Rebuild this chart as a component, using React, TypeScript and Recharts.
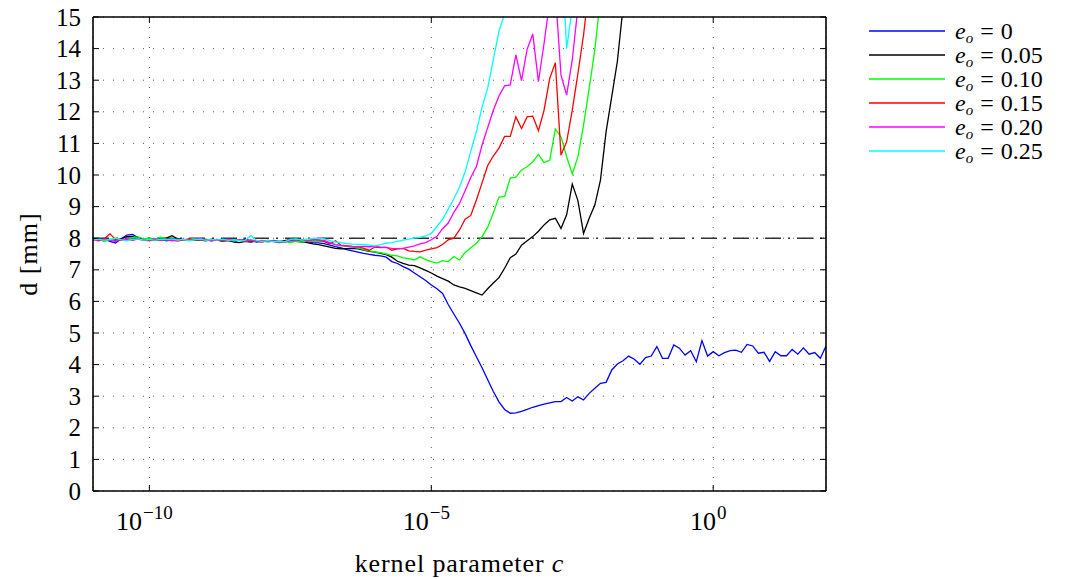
import React from 'react';
import { LineChart, Line, XAxis, YAxis, CartesianGrid, ReferenceLine, Legend } from 'recharts';

// log10 of the kernel parameter c (sample grid of the reference)
const LOG_C = [
  -11.0, -10.9, -10.8, -10.7, -10.6, -10.5, -10.4, -10.3, -10.2, -10.1,
  -10.0, -9.9, -9.8, -9.7, -9.6, -9.5, -9.4, -9.3, -9.2, -9.1,
  -9.0, -8.9, -8.8, -8.7, -8.6, -8.5, -8.4, -8.3, -8.2, -8.1,
  -8.0, -7.9, -7.8, -7.7, -7.6, -7.5, -7.4, -7.3, -7.2, -7.1,
  -7.0, -6.9, -6.8, -6.7, -6.6, -6.5, -6.4, -6.3, -6.2, -6.1,
  -6.0, -5.9, -5.8, -5.7, -5.6, -5.5, -5.4, -5.3, -5.2, -5.1,
  -5.0, -4.9, -4.8, -4.7, -4.6, -4.5, -4.4, -4.3, -4.2, -4.1,
  -4.0, -3.9, -3.8, -3.7, -3.6, -3.5, -3.4, -3.3, -3.2, -3.1,
  -3.0, -2.9, -2.8, -2.7, -2.6, -2.5, -2.4, -2.3, -2.2, -2.1,
  -2.0, -1.9, -1.8, -1.7, -1.6, -1.5, -1.4, -1.3, -1.2, -1.1,
  -1.0, -0.9, -0.8, -0.7, -0.6, -0.5, -0.4, -0.3, -0.2, -0.1,
  0.0, 0.1, 0.2, 0.3, 0.4, 0.5, 0.6, 0.7, 0.8, 0.9,
  1.0, 1.1, 1.2, 1.3, 1.4, 1.5, 1.6, 1.7, 1.8, 1.9, 2.0,
];

const D_E000 = [
  7.95, 7.93, 7.97, 7.90, 7.85, 7.98, 8.10, 8.12, 8.02, 7.96,
  7.98, 7.94, 7.97, 7.92, 7.96, 7.99, 7.93, 7.95, 7.97, 7.94,
  7.96, 7.92, 7.95, 7.97, 7.93, 7.90, 7.94, 7.96, 7.92, 7.88,
  7.90, 7.93, 7.90, 7.86, 7.88, 7.92, 7.90, 7.88, 7.89, 7.86,
  7.85, 7.83, 7.78, 7.73, 7.69, 7.64, 7.60, 7.56, 7.52, 7.49,
  7.46, 7.44, 7.40, 7.26, 7.20, 7.10, 7.02, 6.90, 6.78, 6.66,
  6.52, 6.40, 6.25, 5.90, 5.60, 5.31, 4.98, 4.60, 4.25, 3.90,
  3.52, 3.15, 2.82, 2.58, 2.46, 2.47, 2.52, 2.58, 2.65, 2.70,
  2.75, 2.79, 2.83, 2.83, 2.96, 2.85, 2.98, 2.88, 3.09, 3.25,
  3.41, 3.44, 3.83, 4.02, 4.12, 4.27, 4.17, 4.01, 4.22, 4.27,
  4.57, 4.20, 4.20, 4.62, 4.52, 4.30, 4.44, 4.09, 4.76, 4.27,
  4.41, 4.28, 4.38, 4.44, 4.46, 4.39, 4.64, 4.59, 4.36, 4.39,
  4.10, 4.41, 4.28, 4.28, 4.48, 4.33, 4.53, 4.33, 4.38, 4.20, 4.59,
];

const D_E005 = [
  7.97, 7.95, 7.92, 7.96, 7.94, 7.99, 8.05, 8.06, 7.98, 7.95,
  7.97, 7.93, 7.96, 8.00, 8.08, 7.98, 7.94, 7.96, 7.93, 7.95,
  7.92, 7.96, 7.94, 7.90, 7.93, 7.88, 7.86, 7.90, 7.88, 7.91,
  7.92, 7.90, 7.93, 7.89, 7.92, 7.95, 7.93, 7.90, 7.86, 7.82,
  7.80, 7.76, 7.72, 7.68, 7.66, 7.67, 7.68, 7.66, 7.62, 7.58,
  7.56, 7.52, 7.48, 7.40, 7.27, 7.20, 7.15, 7.13, 7.06, 6.98,
  6.90, 6.80, 6.72, 6.64, 6.52, 6.46, 6.41, 6.34, 6.27, 6.20,
  6.40, 6.58, 6.75, 7.05, 7.38, 7.50, 7.78, 7.92, 8.05, 8.22,
  8.42, 8.58, 8.63, 8.31, 8.74, 9.71, 9.19, 8.15, 8.63, 9.05,
  9.84, 11.37, 12.48, 13.60, 15.30, 17.00, null, null, null, null,
  null, null, null, null, null, null, null, null, null, null,
  null, null, null, null, null, null, null, null, null, null,
  null, null, null, null, null, null, null, null, null, null, null,
];

const D_E010 = [
  7.93, 7.96, 7.90, 7.95, 7.99, 7.94, 7.97, 8.02, 8.04, 7.98,
  8.01, 7.97, 8.03, 7.98, 7.95, 7.97, 7.93, 7.96, 7.99, 7.94,
  7.97, 7.93, 7.96, 7.92, 7.95, 7.91, 7.94, 7.90, 7.93, 7.89,
  7.92, 7.88, 7.91, 7.87, 7.89, 7.86, 7.90, 7.88, 7.91, 7.90,
  7.90, 7.89, 7.84, 7.80, 7.76, 7.74, 7.72, 7.69, 7.64, 7.60,
  7.57, 7.54, 7.50, 7.46, 7.44, 7.38, 7.35, 7.31, 7.41, 7.32,
  7.26, 7.21, 7.29, 7.26, 7.42, 7.31, 7.55, 7.70, 7.84, 8.05,
  8.35, 8.80, 9.30, 9.32, 9.90, 9.93, 10.16, 10.26, 10.42, 10.65,
  10.39, 10.47, 11.45, 11.21, 10.58, 10.03, 10.58, 11.58, 12.74, 13.96,
  15.60, null, null, null, null, null, null, null, null, null,
  null, null, null, null, null, null, null, null, null, null,
  null, null, null, null, null, null, null, null, null, null,
  null, null, null, null, null, null, null, null, null, null, null,
];

const D_E015 = [
  7.95, 7.92, 7.98, 8.14, 7.96, 7.93, 7.97, 7.94, 7.99, 7.95,
  7.92, 7.96, 7.93, 7.97, 7.94, 7.91, 7.95, 7.98, 7.93, 7.96,
  7.94, 7.97, 7.93, 7.95, 7.92, 7.96, 7.93, 7.90, 7.94, 7.91,
  7.88, 7.92, 7.89, 7.91, 7.87, 7.96, 7.93, 7.95, 7.92, 7.96,
  7.94, 7.90, 7.82, 7.92, 7.78, 7.76, 7.74, 7.73, 7.68, 7.62,
  7.72, 7.70, 7.72, 7.62, 7.66, 7.68, 7.60, 7.58, 7.57, 7.62,
  7.66, 7.70, 7.80, 7.95, 8.00, 8.26, 8.60, 8.72, 9.21, 9.75,
  10.30, 10.60, 10.85, 11.22, 11.22, 11.84, 11.47, 11.84, 11.86, 11.40,
  12.05, 13.06, 13.55, 10.63, 11.05, 12.05, 13.21, 14.43, 16.00, null,
  null, null, null, null, null, null, null, null, null, null,
  null, null, null, null, null, null, null, null, null, null,
  null, null, null, null, null, null, null, null, null, null,
  null, null, null, null, null, null, null, null, null, null, null,
];

const D_E020 = [
  7.92, 7.95, 7.97, 7.93, 7.90, 7.96, 7.98, 7.94, 7.97, 7.93,
  7.95, 7.98, 7.94, 7.96, 7.92, 7.95, 7.97, 7.93, 7.96, 7.99,
  7.95, 7.92, 7.96, 7.94, 7.97, 7.93, 7.95, 7.92, 7.94, 7.91,
  7.93, 7.90, 7.92, 7.88, 7.90, 7.95, 7.93, 7.96, 7.92, 7.94,
  7.95, 7.93, 7.86, 7.80, 7.77, 7.75, 7.73, 7.73, 7.74, 7.73,
  7.74, 7.72, 7.70, 7.68, 7.67, 7.68, 7.72, 7.76, 7.82, 7.86,
  7.95, 8.06, 8.30, 8.48, 8.82, 9.10, 9.50, 9.92, 10.27, 10.95,
  11.50, 12.05, 12.50, 12.82, 12.85, 13.80, 12.99, 13.98, 14.46, 12.95,
  14.17, 15.50, 15.80, 13.16, 12.53, 13.64, 15.30, 17.00, null, null,
  null, null, null, null, null, null, null, null, null, null,
  null, null, null, null, null, null, null, null, null, null,
  null, null, null, null, null, null, null, null, null, null,
  null, null, null, null, null, null, null, null, null, null, null,
];

const D_E025 = [
  7.94, 7.97, 7.93, 7.96, 8.00, 7.95, 7.92, 7.96, 7.98, 7.94,
  7.96, 7.93, 7.97, 7.95, 7.98, 7.94, 7.96, 7.92, 7.95, 7.97,
  7.93, 7.96, 7.94, 7.97, 7.93, 7.95, 7.92, 7.94, 8.08, 7.93,
  7.90, 7.92, 7.89, 7.91, 7.88, 7.96, 7.98, 7.94, 7.97, 7.99,
  8.00, 7.98, 7.92, 7.88, 7.86, 7.83, 7.81, 7.80, 7.80, 7.78,
  7.76, 7.80, 7.84, 7.86, 7.90, 7.94, 7.97, 8.00, 8.03, 8.07,
  8.15, 8.37, 8.60, 8.92, 9.25, 9.62, 10.10, 10.75, 11.38, 12.15,
  12.75, 13.65, 14.55, 15.10, null, null, null, null, null, null,
  null, null, null, 17.50, 14.00, 15.30, 17.00, null, null, null,
  null, null, null, null, null, null, null, null, null, null,
  null, null, null, null, null, null, null, null, null, null,
  null, null, null, null, null, null, null, null, null, null,
  null, null, null, null, null, null, null, null, null, null, null,
];

const SERIES = [
  { key: 'e000', label: '0', color: '#0000ff', values: D_E000 },
  { key: 'e005', label: '0.05', color: '#000000', values: D_E005 },
  { key: 'e010', label: '0.10', color: '#00ff00', values: D_E010 },
  { key: 'e015', label: '0.15', color: '#ff0000', values: D_E015 },
  { key: 'e020', label: '0.20', color: '#ff00ff', values: D_E020 },
  { key: 'e025', label: '0.25', color: '#00ffff', values: D_E025 },
];

const Y_TICKS = [0, 1, 2, 3, 4, 5, 6, 7, 8, 9, 10, 11, 12, 13, 14, 15];
const X_TICKS = [1e-10, 1e-5, 1];
const X_DOMAIN = [1e-11, 100];
const Y_DOMAIN = [0, 15];
const REF_D = 8;

const FONT = "'Liberation Serif', 'DejaVu Serif', serif";

const data = LOG_C.map((e, i) => {
  const row: any = { c: Math.pow(10, e) };
  SERIES.forEach((s) => {
    row[s.key] = s.values[i];
  });
  return row;
});

const LeftTick = (p: any) => (
  <g>
    <line x1={p.x + 12} x2={p.x + 18} y1={p.y} y2={p.y} stroke="#000" strokeWidth={1} />
    <text x={p.x} y={p.y} dy={8.5} textAnchor="end" fontSize={25} fontFamily={FONT} fill="#000">
      {p.payload.value}
    </text>
  </g>
);

const RightTick = (p: any) => (
  <line x1={p.x - 6} x2={p.x} y1={p.y} y2={p.y} stroke="#000" strokeWidth={1} />
);

const TopTick = (p: any) => (
  <line x1={p.x} x2={p.x} y1={p.y} y2={p.y + 6} stroke="#000" strokeWidth={1} />
);

const BottomTick = (p: any) => {
  const ex = Math.round(Math.log10(p.payload.value));
  const sup = ex === 0 ? '0' : '\u2212' + Math.abs(ex);
  return (
    <g>
      <line x1={p.x} x2={p.x} y1={p.y} y2={p.y - 6} stroke="#000" strokeWidth={1} />
      <text x={p.x - 5} y={p.y + 39} textAnchor="middle" fontSize={26} fontFamily={FONT} fill="#000">
        <tspan>10</tspan>
        <tspan dx={1} dy={-11} fontSize={19}>{sup}</tspan>
      </text>
    </g>
  );
};

const XLabel = (lp: any) => {
  const vb = lp.viewBox || { x: 93, y: 491, width: 733, height: 88 };
  return (
    <text
      x={vb.x + vb.width / 2}
      y={vb.y + 81}
      textAnchor="middle"
      fontSize={26}
      letterSpacing={0.9}
      fontFamily={FONT}
      fill="#000"
    >
      kernel parameter <tspan fontStyle="italic">c</tspan>
    </text>
  );
};

const YLabel = (lp: any) => {
  const vb = lp.viewBox || { x: 0, y: 17, width: 93, height: 474 };
  const cx = vb.x + 37;
  const cy = vb.y + vb.height / 2;
  return (
    <text
      x={cx}
      y={cy}
      transform={`rotate(-90 ${cx} ${cy})`}
      textAnchor="middle"
      fontSize={26}
      letterSpacing={1}
      fontFamily={FONT}
      fill="#000"
    >
      d [mm]
    </text>
  );
};

const LegendContent = () => (
  <div style={{ fontFamily: FONT, fontSize: 24, color: '#000' }}>
    {SERIES.map((s) => (
      <div key={s.key} style={{ display: 'flex', alignItems: 'center', height: 24, overflow: 'visible' }}>
        <svg width={76} height={4} style={{ display: 'block' }}>
          <line x1={0} x2={76} y1={2} y2={2} stroke={s.color} strokeWidth={1.3} />
        </svg>
        <span
          style={{
            marginLeft: 10,
            whiteSpace: 'nowrap',
            lineHeight: '20px',
            height: 20,
            display: 'flex',
            alignItems: 'baseline',
          }}
        >
          <i>e</i>
          <i style={{ fontSize: 15, lineHeight: '12px', position: 'relative', top: 4 }}>o</i>
          <span style={{ marginLeft: 7, marginRight: 7 }}>=</span>
          <span>{s.label}</span>
        </span>
      </div>
    ))}
  </div>
);

export default function App() {
  return (
    <div style={{ position: 'absolute', left: 0, top: 0, width: 1065, height: 579, background: '#fff' }}>
      <LineChart width={1065} height={579} data={data} margin={{ top: 0, right: 0, bottom: 0, left: 0 }}>
        <CartesianGrid stroke="#555" strokeDasharray="1 9" strokeWidth={1} />
        <XAxis
          xAxisId={0}
          dataKey="c"
          type="number"
          scale="log"
          domain={X_DOMAIN}
          allowDataOverflow
          ticks={X_TICKS}
          interval={0}
          orientation="bottom"
          height={88}
          tickSize={0}
          tickMargin={0}
          tickLine={false}
          tick={<BottomTick />}
          axisLine={{ stroke: '#000', strokeWidth: 1.6 }}
          label={{ content: <XLabel /> }}
        />
        <XAxis
          xAxisId="top"
          dataKey="c"
          type="number"
          scale="log"
          domain={X_DOMAIN}
          allowDataOverflow
          ticks={X_TICKS}
          interval={0}
          orientation="top"
          height={17}
          tickSize={0}
          tickMargin={0}
          tickLine={false}
          tick={<TopTick />}
          axisLine={{ stroke: '#000', strokeWidth: 1.6 }}
        />
        <YAxis
          yAxisId={0}
          type="number"
          domain={Y_DOMAIN}
          allowDataOverflow
          ticks={Y_TICKS}
          interval={0}
          orientation="left"
          width={93}
          tickSize={0}
          tickMargin={12}
          tickLine={false}
          tick={<LeftTick />}
          axisLine={{ stroke: '#000', strokeWidth: 1.6 }}
          label={{ content: <YLabel /> }}
        />
        <YAxis
          yAxisId="right"
          type="number"
          domain={Y_DOMAIN}
          allowDataOverflow
          ticks={Y_TICKS}
          interval={0}
          orientation="right"
          width={239}
          tickSize={0}
          tickMargin={0}
          tickLine={false}
          tick={<RightTick />}
          axisLine={{ stroke: '#000', strokeWidth: 1.6 }}
        />
        <ReferenceLine y={REF_D} stroke="#333" strokeWidth={1.5} strokeDasharray="16 7 2 7" />
        {SERIES.map((s) => (
          <Line
            key={s.key}
            dataKey={s.key}
            name={`e_o = ${s.label}`}
            stroke={s.color}
            strokeWidth={1.3}
            dot={false}
            activeDot={false}
            type="linear"
            isAnimationActive={false}
            connectNulls={false}
          />
        ))}
        <Legend
          layout="vertical"
          align="center"
          verticalAlign="middle"
          content={<LegendContent />}
          wrapperStyle={{ left: 869, top: 19, width: 196 }}
        />
      </LineChart>
    </div>
  );
}
